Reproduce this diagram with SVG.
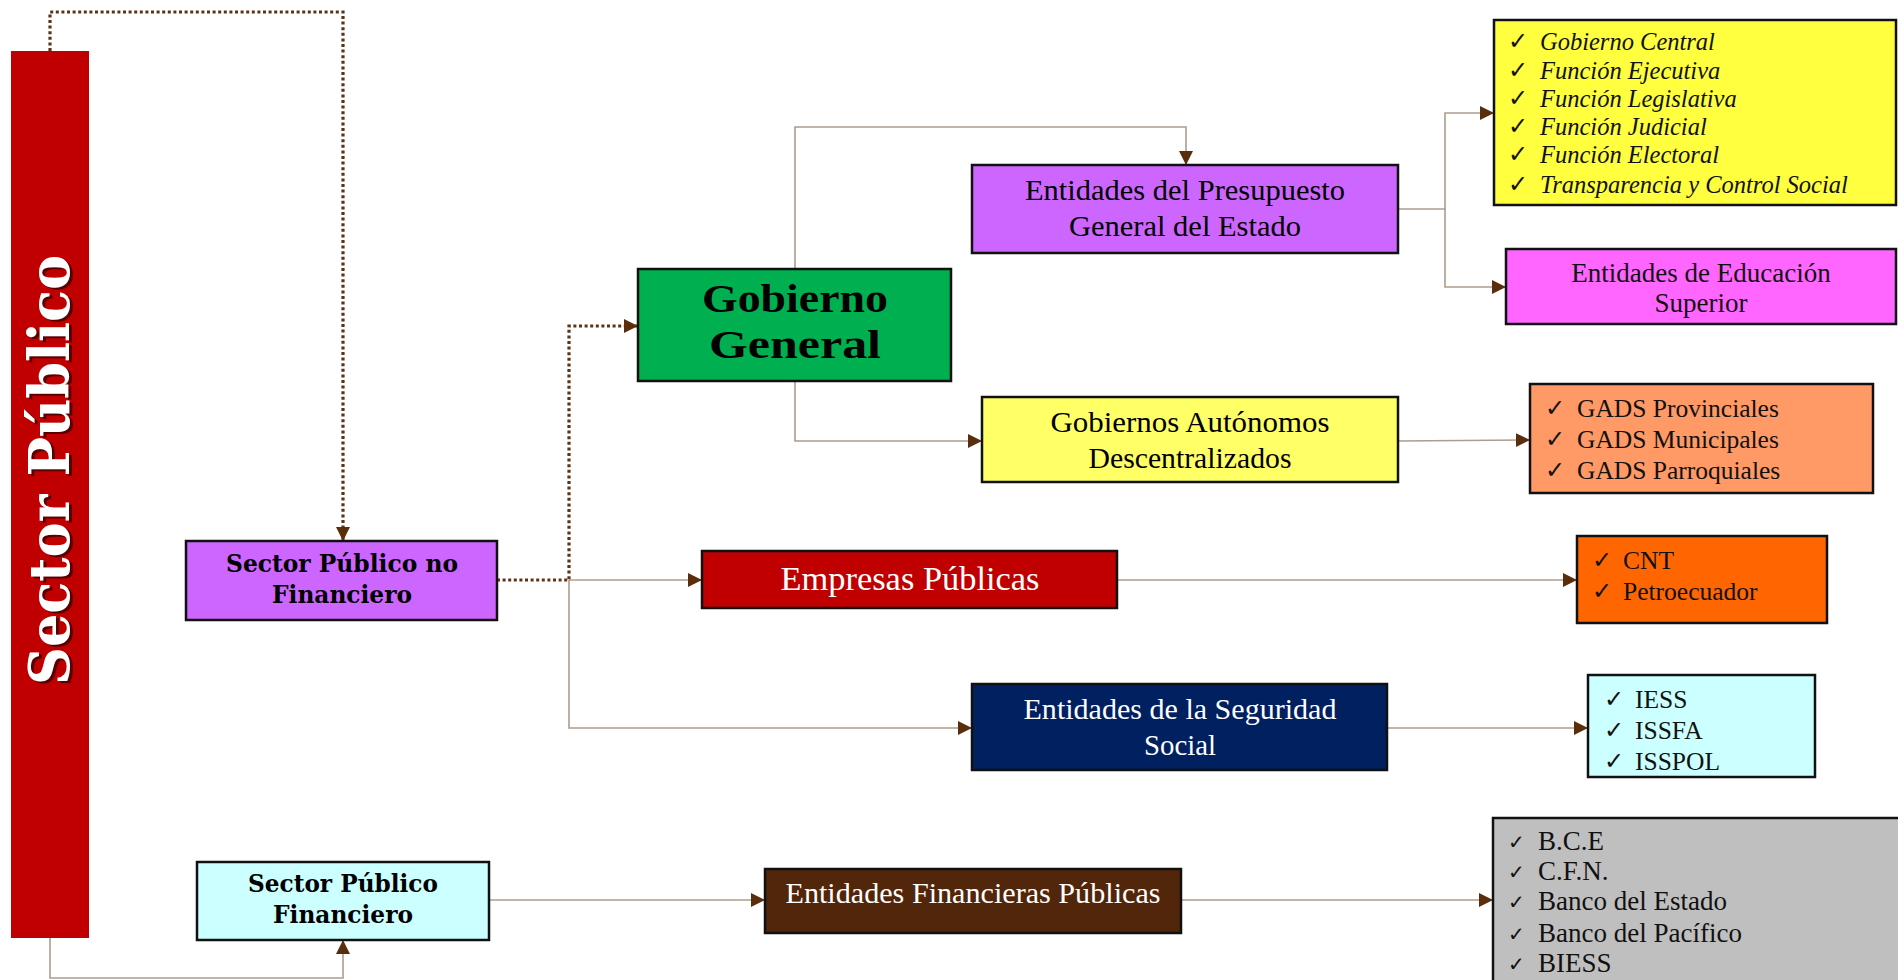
<svg xmlns="http://www.w3.org/2000/svg" width="1898" height="980" viewBox="0 0 1898 980">
<defs>
<marker id="ah" markerUnits="userSpaceOnUse" markerWidth="15" markerHeight="15" viewBox="0 0 15 15" refX="14" refY="7.5" orient="auto">
<path d="M0,0.5 L14,7.5 L0,14.5 Z" fill="#5a2d0c"/>
</marker>
</defs>
<style>
.box{stroke:#111;stroke-width:2.5}
.thin{fill:none;stroke:#ae9c8c;stroke-width:1.6}
.dot{fill:none;stroke:#5c3317;stroke-width:3.2;stroke-dasharray:3 2.6}
.g{font-family:"Liberation Serif","Times New Roman",serif;font-size:29px;text-anchor:middle;fill:#000}
.w{fill:#fff}
.b{font-family:"DejaVu Serif","Liberation Serif",serif;font-weight:bold;font-size:24px;text-anchor:middle;fill:#000}
.l{font-family:"Liberation Serif","Times New Roman",serif;font-size:25.5px;fill:#111}
.i{font-style:italic;font-size:24.5px}
.ck{font-family:"DejaVu Sans",sans-serif;font-size:24px;fill:#111}
</style>
<rect width="1898" height="980" fill="#fff"/>
<g id="connectors">
<path class="dot" d="M50,51 V12 H343 V541" marker-end="url(#ah)"/>
<path class="thin" d="M50,938 V978 H343 V940" marker-end="url(#ah)"/>
<path class="dot" d="M497,580 H569 V326 H638" marker-end="url(#ah)"/>
<path class="thin" d="M569,580 H702" marker-end="url(#ah)"/>
<path class="thin" d="M569,580 V728 H972" marker-end="url(#ah)"/>
<path class="thin" d="M795,269 V127 H1186 V165" marker-end="url(#ah)"/>
<path class="thin" d="M795,381 V441 H982" marker-end="url(#ah)"/>
<path class="thin" d="M1398,209 H1445 V113 H1494" marker-end="url(#ah)"/>
<path class="thin" d="M1445,209 V287 H1506" marker-end="url(#ah)"/>
<path class="thin" d="M1398,441 L1530,440" marker-end="url(#ah)"/>
<path class="thin" d="M1117,580 H1577" marker-end="url(#ah)"/>
<path class="thin" d="M1387,728 H1588" marker-end="url(#ah)"/>
<path class="thin" d="M489,900 H765" marker-end="url(#ah)"/>
<path class="thin" d="M1181,900 H1493" marker-end="url(#ah)"/>
</g>
<g id="sector-publico">
<rect x="11" y="51" width="78" height="887" fill="#c00000"/>
<text transform="translate(72,472) rotate(-90)" text-anchor="middle" font-family="DejaVu Serif,Liberation Serif,serif" font-weight="bold" font-size="56" fill="#5a0000" textLength="430" lengthAdjust="spacingAndGlyphs">Sector Público</text>
<text transform="translate(69,470) rotate(-90)" text-anchor="middle" font-family="DejaVu Serif,Liberation Serif,serif" font-weight="bold" font-size="56" fill="#fff" textLength="430" lengthAdjust="spacingAndGlyphs">Sector Público</text>
</g>
<g id="spnf">
<rect class="box" x="186" y="541" width="311" height="79" fill="#cc66ff"/>
<text class="b" x="342" y="572" textLength="232" lengthAdjust="spacingAndGlyphs">Sector Público no</text>
<text class="b" x="342" y="603" textLength="140" lengthAdjust="spacingAndGlyphs">Financiero</text>
</g>
<g id="spf">
<rect class="box" x="197" y="862" width="292" height="78" fill="#ccffff"/>
<text class="b" x="343" y="892" textLength="190" lengthAdjust="spacingAndGlyphs">Sector Público</text>
<text class="b" x="343" y="923" textLength="140" lengthAdjust="spacingAndGlyphs">Financiero</text>
</g>
<g id="gobierno-general">
<rect class="box" x="638" y="269" width="313" height="112" fill="#00b050"/>
<text class="g" x="795" y="312" style="font-weight:bold;font-size:40px" textLength="186" lengthAdjust="spacingAndGlyphs">Gobierno</text>
<text class="g" x="795" y="358" style="font-weight:bold;font-size:40px" textLength="172" lengthAdjust="spacingAndGlyphs">General</text>
</g>
<g id="presupuesto">
<rect class="box" x="972" y="165" width="426" height="88" fill="#cc66ff"/>
<text class="g" x="1185" y="200" textLength="320" lengthAdjust="spacingAndGlyphs">Entidades del Presupuesto</text>
<text class="g" x="1185" y="236" textLength="232" lengthAdjust="spacingAndGlyphs">General del Estado</text>
</g>
<g id="gad">
<rect class="box" x="982" y="397" width="416" height="85" fill="#ffff66"/>
<text class="g" x="1190" y="432" textLength="279" lengthAdjust="spacingAndGlyphs">Gobiernos Autónomos</text>
<text class="g" x="1190" y="468" textLength="203" lengthAdjust="spacingAndGlyphs">Descentralizados</text>
</g>
<g id="empresas">
<rect class="box" x="702" y="551" width="415" height="57" fill="#c00000"/>
<text class="g w" x="910" y="590" style="font-size:33px" textLength="259" lengthAdjust="spacingAndGlyphs">Empresas Públicas</text>
</g>
<g id="seguridad">
<rect class="box" x="972" y="684" width="415" height="86" fill="#002060"/>
<text class="g w" x="1180" y="719" textLength="313" lengthAdjust="spacingAndGlyphs">Entidades de la Seguridad</text>
<text class="g w" x="1180" y="755" textLength="72" lengthAdjust="spacingAndGlyphs">Social</text>
</g>
<g id="financieras">
<rect class="box" x="765" y="869" width="416" height="64" fill="#52260a"/>
<text class="g w" x="973" y="903" textLength="375" lengthAdjust="spacingAndGlyphs">Entidades Financieras Públicas</text>
</g>
<g id="lista-gobierno">
<rect class="box" x="1494" y="20" width="402" height="185" fill="#ffff3f"/>
<text class="ck" x="1508" y="49">✓</text>
<text class="ck" x="1508" y="78">✓</text>
<text class="ck" x="1508" y="106">✓</text>
<text class="ck" x="1508" y="134">✓</text>
<text class="ck" x="1508" y="162">✓</text>
<text class="ck" x="1508" y="192">✓</text>
<text class="l i" x="1540" y="50">Gobierno Central</text>
<text class="l i" x="1540" y="79">Función Ejecutiva</text>
<text class="l i" x="1540" y="107">Función Legislativa</text>
<text class="l i" x="1540" y="135">Función Judicial</text>
<text class="l i" x="1540" y="163">Función Electoral</text>
<text class="l i" x="1540" y="193">Transparencia y Control Social</text>
</g>
<g id="educacion">
<rect class="box" x="1506" y="249" width="390" height="75" fill="#ff66ff"/>
<text class="l" x="1701" y="282" style="text-anchor:middle;font-size:27px">Entidades de Educación</text>
<text class="l" x="1701" y="312" style="text-anchor:middle;font-size:27px">Superior</text>
</g>
<g id="gads">
<rect class="box" x="1530" y="384" width="343" height="109" fill="#ff9966"/>
<text class="ck" x="1545" y="416">✓</text>
<text class="ck" x="1545" y="447">✓</text>
<text class="ck" x="1545" y="478">✓</text>
<text class="l" x="1577" y="417">GADS Provinciales</text>
<text class="l" x="1577" y="448">GADS Municipales</text>
<text class="l" x="1577" y="479">GADS Parroquiales</text>
</g>
<g id="cnt">
<rect class="box" x="1577" y="536" width="250" height="87" fill="#ff6600"/>
<text class="ck" x="1592" y="568">✓</text>
<text class="ck" x="1592" y="599">✓</text>
<text class="l" x="1623" y="569">CNT</text>
<text class="l" x="1623" y="600">Petroecuador</text>
</g>
<g id="iess">
<rect class="box" x="1588" y="675" width="227" height="102" fill="#ccffff"/>
<text class="ck" x="1604" y="707">✓</text>
<text class="ck" x="1604" y="738">✓</text>
<text class="ck" x="1604" y="769">✓</text>
<text class="l" x="1635" y="708">IESS</text>
<text class="l" x="1635" y="739">ISSFA</text>
<text class="l" x="1635" y="770">ISSPOL</text>
</g>
<g id="bancos">
<rect class="box" x="1493" y="818" width="410" height="170" fill="#bfbfbf"/>
<text class="ck" x="1508" y="849" style="font-size:20px">✓</text>
<text class="ck" x="1508" y="879" style="font-size:20px">✓</text>
<text class="ck" x="1508" y="909" style="font-size:20px">✓</text>
<text class="ck" x="1508" y="941" style="font-size:20px">✓</text>
<text class="ck" x="1508" y="971" style="font-size:20px">✓</text>
<text class="l" x="1538" y="850" style="font-size:27px">B.C.E</text>
<text class="l" x="1538" y="880" style="font-size:27px">C.F.N.</text>
<text class="l" x="1538" y="910" style="font-size:27px">Banco del Estado</text>
<text class="l" x="1538" y="942" style="font-size:27px">Banco del Pacífico</text>
<text class="l" x="1538" y="972" style="font-size:27px">BIESS</text>
</g>
</svg>
